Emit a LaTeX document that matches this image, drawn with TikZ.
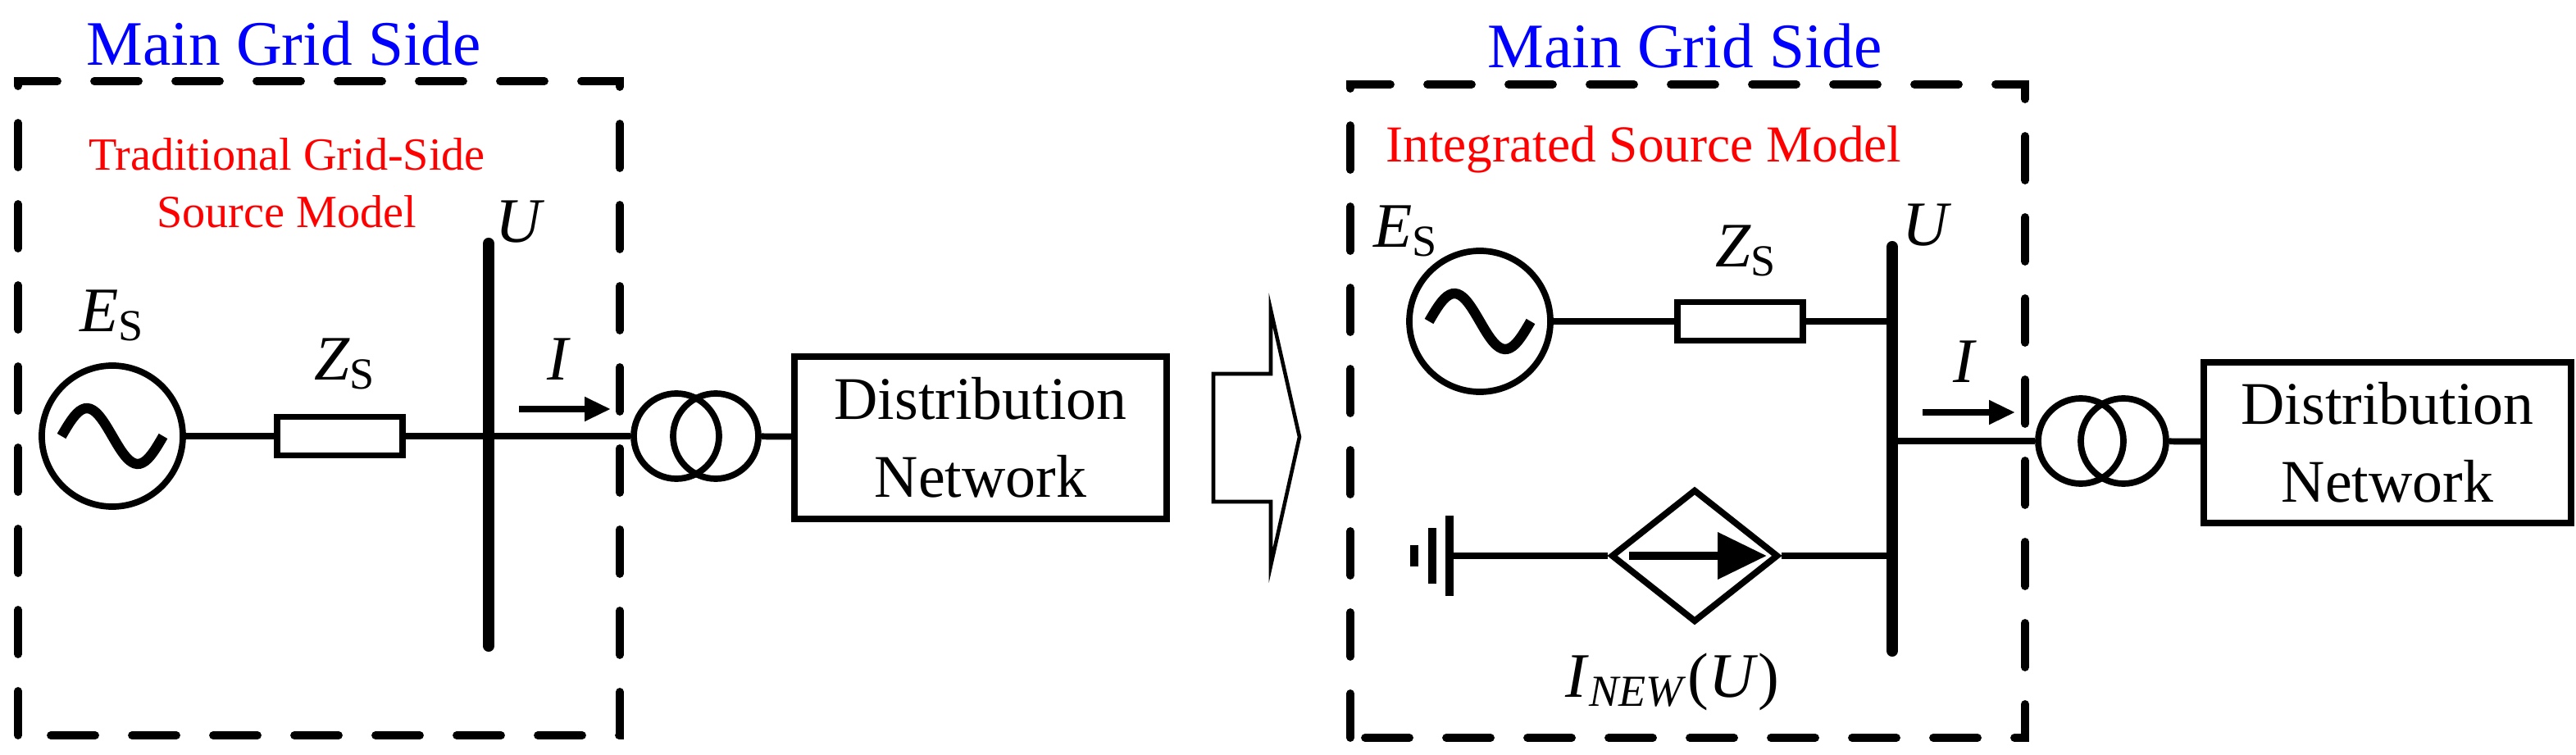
\documentclass[tikz,border=0pt]{standalone}
\usepackage{fontspec}
\setmainfont{LiberationSerif}[Extension=.ttf,UprightFont=*-Regular,ItalicFont=*-Italic,BoldFont=*-Bold,BoldItalicFont=*-BoldItalic]
\usetikzlibrary{shapes.geometric,arrows.meta}

\begin{document}
\begin{tikzpicture}[line width=2.2pt]
	\tikzstyle{frame}=[draw,line width=2.8pt,line cap=round,dash pattern=on 0.54cm off 0.45cm]
	\tikzstyle{gen}=[draw,shape=circle,minimum size=1.72cm,inner sep=0pt]
	\tikzstyle{coil}=[draw,shape=circle,minimum size=1.04cm,inner sep=0pt]
	\tikzstyle{imp}=[draw,shape=rectangle,minimum width=1.53cm,minimum height=0.47cm,inner sep=0pt]
	\tikzstyle{net}=[draw,shape=rectangle,align=center,inner sep=0pt,font=\fontsize{21}{27}\selectfont]
	\tikzstyle{bus}=[line width=4pt,line cap=round]
	\tikzstyle{title}=[text=blue,font=\fontsize{22}{26}\selectfont]
	\tikzstyle{model}=[text=red,align=center,font=\fontsize{16}{20}\selectfont]
	\tikzstyle{lbl}=[font=\fontsize{22}{26}\selectfont]
	\tikzstyle{flow}=[-{Triangle[length=0.32cm,width=0.28cm]}]
	\tikzstyle{sine}=[line width=3.5pt,domain=0:360,samples=40,smooth]

	\useasboundingbox (0,0) rectangle (31.42,9.2);

	% left: traditional model
	\node[title](t1) at (3.46,8.67){Main Grid Side};
	\draw[frame] (0.22,0.23) rectangle (7.56,8.21);
	\node[model](m1) at (3.5,6.97){Traditional Grid-Side\\Source Model};

	\node[gen](g1) at (1.37,3.88){};
	\draw[sine] plot ({1.37-0.62+\x/360*1.24},{3.88+0.34*sin(\x)});
	\node[lbl] at (1.37,5.35){\textit{E}\textsubscript{S}};
	\node[imp](z1) at (4.145,3.88){};
	\node[lbl] at (4.21,4.76){\textit{Z}\textsubscript{S}};

	\coordinate (b1t) at (5.96,6.23);
	\coordinate (b1b) at (5.96,1.32);
	\coordinate (b1) at (5.96,3.88);
	\draw[bus] (b1t) -- (b1b);
	\node[lbl] at (6.35,6.49){\textit{U}};

	\node[coil](c1a) at (8.25,3.88){};
	\node[coil](c1b) at (8.73,3.88){};
	\node[net,minimum width=4.54cm,minimum height=1.98cm](d1) at (11.96,3.86){Distribution\\Network};

	\draw (g1) -- (z1);
	\draw (z1) -- (b1);
	\draw (b1) -- (c1a);
	\draw (c1b) -- (d1);

	\coordinate (i1s) at (6.33,4.21);
	\coordinate (i1e) at (7.45,4.21);
	\draw[flow] (i1s) -- (i1e);
	\node[lbl] at (6.82,4.82){\textit{I}};

	% transition arrow
	\draw[line width=1.3pt,line join=miter] (14.8,4.64) -- (15.5,4.64) -- (15.5,5.42) -- (15.85,3.87)
		-- (15.5,2.3) -- (15.5,3.08) -- (14.8,3.08) -- cycle;

	% right: integrated model
	\node[title](t2) at (20.55,8.64){Main Grid Side};
	\draw[frame] (16.47,0.2) rectangle (24.7,8.17);
	\node[model,anchor=west,font=\fontsize{18}{22}\selectfont](m2) at (16.75,7.38){Integrated Source Model};

	\node[gen](g2) at (18.05,5.28){};
	\draw[sine] plot ({18.05-0.62+\x/360*1.24},{5.28+0.34*sin(\x)});
	\node[lbl] at (17.15,6.38){\textit{E}\textsubscript{S}};
	\node[imp](z2) at (21.225,5.28){};
	\node[lbl] at (21.3,6.14){\textit{Z}\textsubscript{S}};

	\coordinate (b2t) at (23.08,6.19);
	\coordinate (b2b) at (23.08,1.26);
	\coordinate (b2u) at (23.08,5.28);
	\coordinate (b2m) at (23.08,3.82);
	\coordinate (b2l) at (23.08,2.42);
	\draw[bus] (b2t) -- (b2b);
	\node[lbl] at (23.5,6.45){\textit{U}};

	\node[draw,shape=diamond,minimum width=2.04cm,minimum height=1.62cm,inner sep=0pt](src) at (20.67,2.42){};
	\draw[line width=3pt,-{Triangle[length=0.6cm,width=0.55cm]}] (19.87,2.42) -- (21.55,2.42);
	\node[lbl] at (20.4,0.88){\textit{I}\textsubscript{\textit{NEW}}(\textit{U})};

	\coordinate (gnd) at (17.68,2.42);
	\draw[line width=2.6pt] (17.68,1.93) -- (17.68,2.91);
	\draw[line width=2.6pt] (17.47,2.08) -- (17.47,2.76);
	\draw[line width=2.6pt] (17.25,2.29) -- (17.25,2.55);

	\node[coil](c2a) at (25.38,3.82){};
	\node[coil](c2b) at (25.9,3.82){};
	\node[net,minimum width=4.48cm,minimum height=1.96cm](d2) at (29.12,3.8){Distribution\\Network};

	\draw (g2) -- (z2);
	\draw (z2) -- (b2u);
	\draw (gnd) -- (src);
	\draw (src) -- (b2l);
	\draw (b2m) -- (c2a);
	\draw (c2b) -- (d2);

	\coordinate (i2s) at (23.45,4.17);
	\coordinate (i2e) at (24.58,4.17);
	\draw[flow] (i2s) -- (i2e);
	\node[lbl] at (23.97,4.79){\textit{I}};
\end{tikzpicture}
\end{document}
